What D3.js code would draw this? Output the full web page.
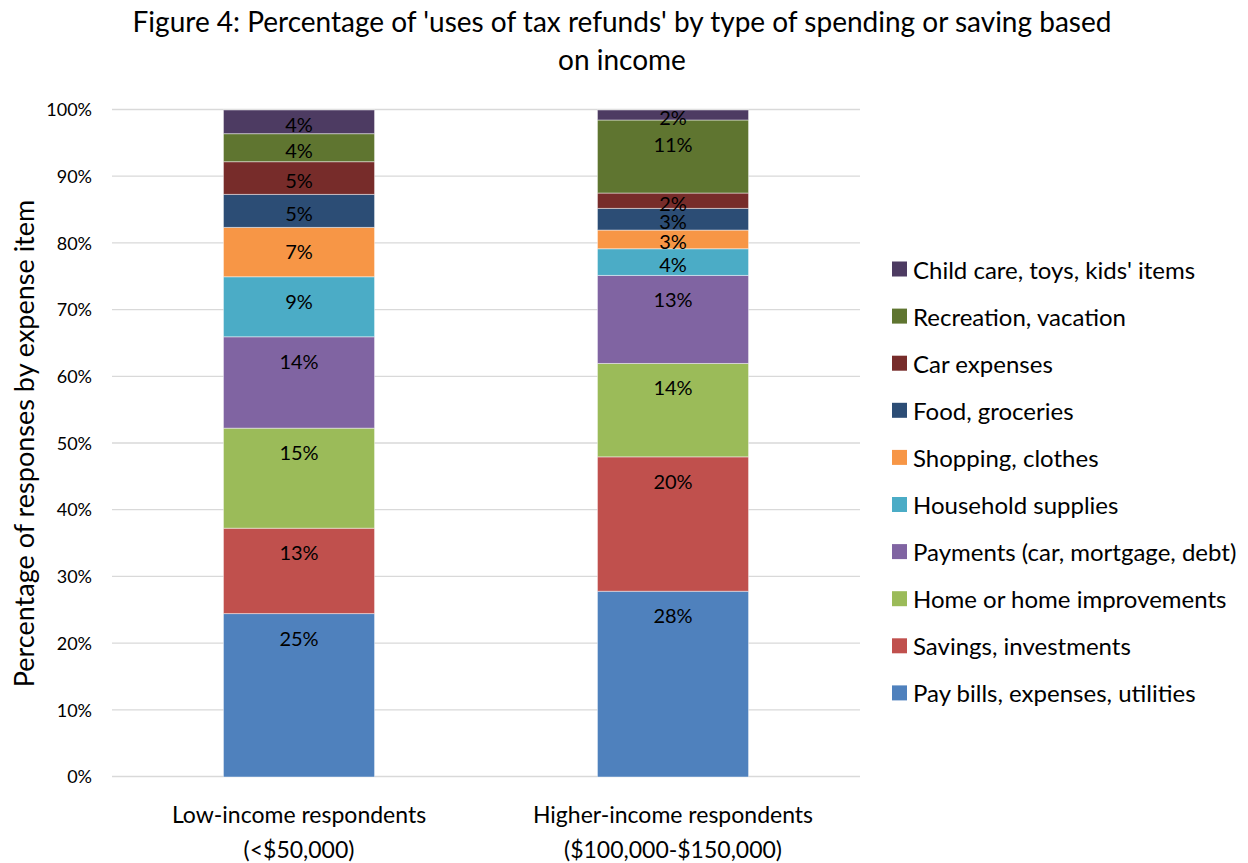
<!DOCTYPE html>
<html>
<head>
<meta charset="utf-8">
<script src="https://cdn.jsdelivr.net/npm/d3@7"></script>
<style>
  body { margin: 0; background: #fff; }
  svg text { font-family: Lato, "Open Sans", sans-serif; fill: #000; }
</style>
</head>
<body>
<svg width="1248" height="863"></svg>
<script>
var svg = d3.select("svg"),
    width = +svg.attr("width"),
    height = +svg.attr("height");

// Data
var groups = ["Low-income respondents|(<$50,000)", "Higher-income respondents|($100,000-$150,000)"];
var series = ["Pay bills, expenses, utilities", "Savings, investments", "Home or home improvements",
    "Payments (car, mortgage, debt)", "Household supplies", "Shopping, clothes", "Food, groceries",
    "Car expenses", "Recreation, vacation", "Child care, toys, kids' items"];
var lowIncome = [24.5, 12.8, 15.0, 13.7, 9.0, 7.4, 4.95, 4.9, 4.2, 3.55];
var highIncome = [27.85, 20.15, 14.0, 13.2, 4.0, 2.8, 3.25, 2.3, 10.95, 1.5];
var colors = ["#4F81BD", "#C0504D", "#9BBB59", "#8064A2", "#4BACC6", "#F79646", "#2C4D75", "#772C2A", "#5F7530", "#4D3B62"];
var yTicks = [0, 10, 20, 30, 40, 50, 60, 70, 80, 90, 100];

var margin = {top: 110, left: 112, right: 388, bottom: 86};
var plotW = width - margin.left - margin.right,
    plotH = 667;

// rows for d3.stack
var rows = groups.map(function (g, i) {
    var r = {group: g};
    var vals = i === 0 ? lowIncome : highIncome;
    series.forEach(function (s, j) { r[s] = vals[j]; });
    return r;
});
var stacked = d3.stack().keys(series)(rows);

var x = d3.scaleBand()
    .domain(groups)
    .range([0, plotW])
    .paddingInner(0.596)
    .paddingOuter(0.298);
var y = d3.scaleLinear().domain([0, 100]).range([plotH, 0]);
var color = d3.scaleOrdinal().domain(series).range(colors);

var g = svg.append("g").attr("transform", "translate(" + margin.left + "," + margin.top + ")");

// Gridlines
g.append("g")
    .selectAll("line")
    .data(yTicks)
    .enter().append("line")
        .attr("x1", 0).attr("x2", plotW)
        .attr("y1", function (d) { return y(d) - 0.5; })
        .attr("y2", function (d) { return y(d) - 0.5; })
        .attr("stroke", "#d9d9d9")
        .attr("stroke-width", 1.3);

// Y axis tick labels
var yAxis = d3.axisLeft(y).tickValues(yTicks).tickSize(0).tickPadding(20)
    .tickFormat(function (d) { return d + "%"; });
g.append("g").call(yAxis)
    .call(function (a) { a.select(".domain").remove(); })
    .selectAll("text")
        .style("font-size", "18px");

// Bars
var layer = g.selectAll(".layer")
    .data(stacked)
    .enter().append("g")
        .attr("class", "layer")
        .attr("fill", function (d) { return color(d.key); });
layer.selectAll("rect")
    .data(function (d) { return d; })
    .enter().append("rect")
        .attr("x", function (d) { return x(d.data.group); })
        .attr("width", x.bandwidth())
        .attr("y", function (d) { return y(d[1]); })
        .attr("height", function (d) { return y(d[0]) - y(d[1]); })
        .attr("stroke", "rgba(255,255,255,0.45)")
        .attr("stroke-width", 1);

// Data labels (inside end)
layer.selectAll("text")
    .data(function (d) { return d; })
    .enter().append("text")
        .attr("x", function (d) { return x(d.data.group) + x.bandwidth() / 2; })
        .attr("y", function (d) {
            var top = y(d[1]), h = y(d[0]) - y(d[1]);
            return top + Math.min(24, h / 2 + 2);
        })
        .attr("text-anchor", "middle")
        .attr("dominant-baseline", "central")
        .style("font-size", "20px")
        .text(function (d) { return Math.round(d[1] - d[0]) + "%"; });

// X category labels
var xl = g.append("g").selectAll("text")
    .data(groups)
    .enter().append("text")
        .attr("text-anchor", "middle")
        .style("font-size", "23px")
        .attr("transform", function (d) { return "translate(" + (x(d) + x.bandwidth() / 2) + "," + (plotH + 46) + ")"; });
xl.append("tspan").attr("x", 0).attr("y", 0).text(function (d) { return d.split("|")[0]; });
xl.append("tspan").attr("x", 0).attr("y", 35).text(function (d) { return d.split("|")[1]; });

// Y axis title
svg.append("text")
    .attr("transform", "translate(34," + (margin.top + plotH / 2) + ") rotate(-90)")
    .attr("text-anchor", "middle")
    .style("font-size", "27px")
    .text("Percentage of responses by expense item");

// Title
var title = svg.append("text")
    .attr("text-anchor", "middle")
    .style("font-size", "28px");
title.append("tspan").attr("x", 622).attr("y", 32)
    .text("Figure 4: Percentage of 'uses of tax refunds' by type of spending or saving based");
title.append("tspan").attr("x", 622).attr("y", 70).text("on income");

// Legend
var legend = svg.append("g").attr("transform", "translate(892,269)");
var items = legend.selectAll("g")
    .data(series.slice().reverse())
    .enter().append("g")
        .attr("transform", function (d, i) { return "translate(0," + (i * 47.1) + ")"; });
items.append("rect")
    .attr("x", 0).attr("y", -7.5)
    .attr("width", 15).attr("height", 15)
    .attr("fill", function (d) { return color(d); });
items.append("text")
    .attr("x", 21)
    .attr("dominant-baseline", "central")
    .style("font-size", "24px")
    .text(function (d) { return d; });
</script>
</body>
</html>
